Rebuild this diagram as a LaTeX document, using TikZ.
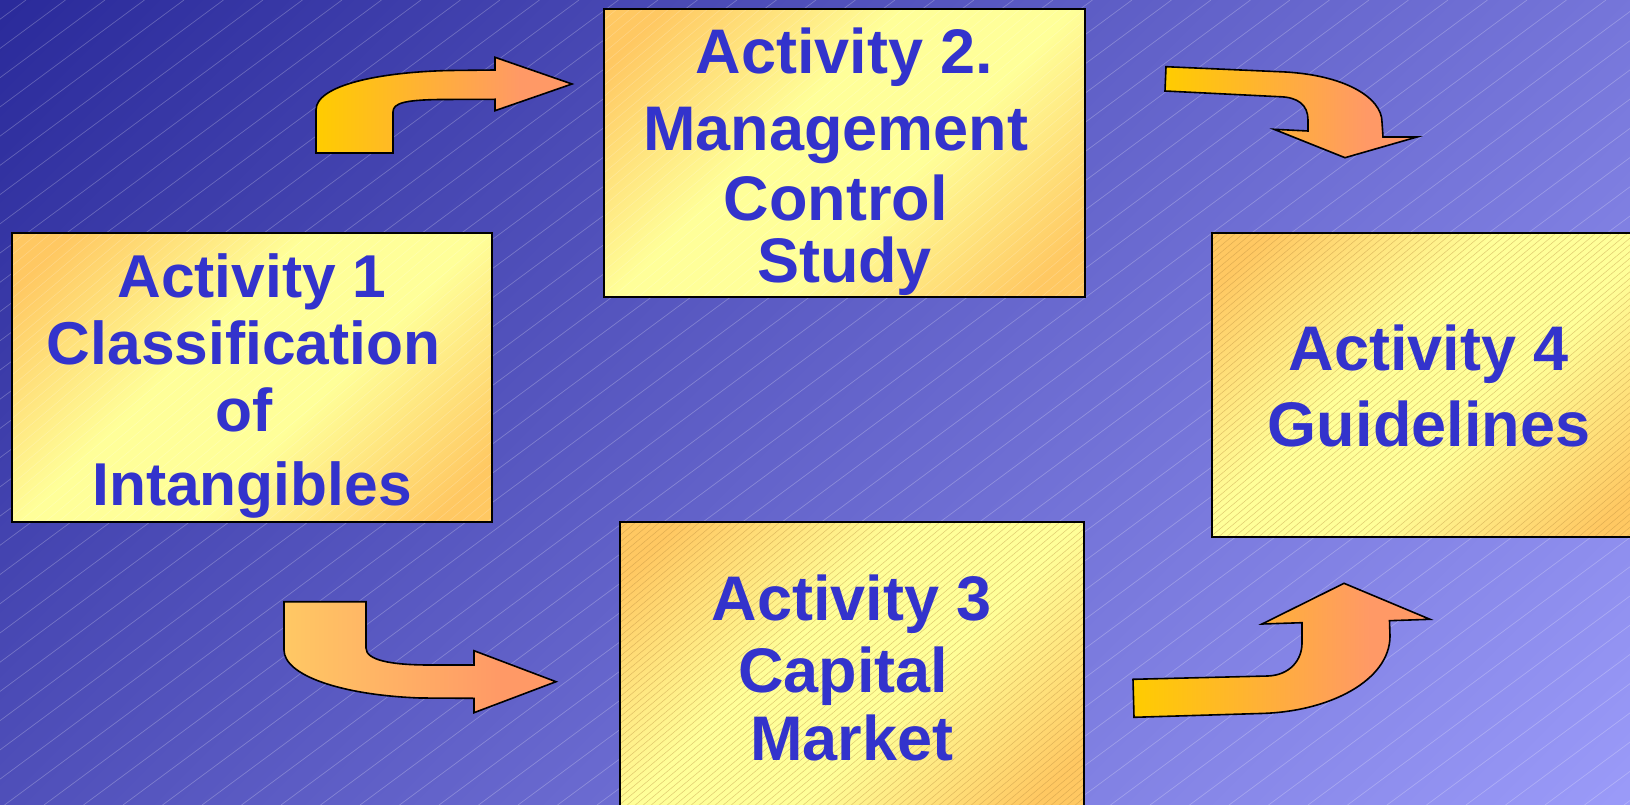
\documentclass[tikz,border=0pt]{standalone}
\usepackage{fontspec}
\setmainfont{Liberation Sans}
\usetikzlibrary{calc}
\definecolor{bgA}{HTML}{2B2B9B}
\definecolor{bgB}{HTML}{9A9AF8}
\definecolor{bxO}{HTML}{FFC862}
\definecolor{bxY}{HTML}{FFFF99}
\definecolor{txB}{HTML}{3333CC}
\definecolor{arY}{HTML}{FFCC00}
\definecolor{arL}{HTML}{FFC864}
\definecolor{arS}{HTML}{FF9966}
\definecolor{htc}{HTML}{B88A3C}
\pgfdeclarehorizontalshading{bgshade}{100bp}{color(0bp)=(bgA); color(15bp)=(bgA); color(85bp)=(bgB); color(100bp)=(bgB)}
\pgfdeclarehorizontalshading{boxshade}{100bp}{color(0bp)=(bxO); color(20bp)=(bxO); color(42bp)=(bxY); color(58bp)=(bxY); color(80bp)=(bxO); color(100bp)=(bxO)}
\pgfdeclarehorizontalshading{arrowshY}{100bp}{color(0bp)=(arY); color(25bp)=(arY); color(65bp)=(arS); color(100bp)=(arS)}
\pgfdeclarehorizontalshading{arrowshL}{100bp}{color(0bp)=(arL); color(25bp)=(arL); color(65bp)=(arS); color(100bp)=(arS)}
\tikzset{
  actbox/.style={rectangle, shade, shading=boxshade, shading angle=-45, inner sep=0pt, outer sep=0pt},
  boxedge/.style={draw=black, line width=2pt},
  acttext/.style={inner sep=0pt, align=center, text=txB, anchor=north},
  blockarrow/.style={draw=black, line width=1.6pt, line join=miter, shade, shading=arrowshY},
  bghatch/.style={draw=white, line width=0.7pt, opacity=0.24},
  lighthatch/.style={draw=white, line width=0.6pt, opacity=0.2},
  darkhatch/.style={draw=htc, line width=0.5pt, opacity=0.45},
}
\newcommand\hatchbox[3]{%
  \begin{scope}
    \clip (#1.north west) rectangle (#1.south east);
    \foreach \k in {0,...,110}{
      \draw[#3] ($(#1.north west)+(\k*#2,0)$) -- ++(-420,353);
    }
  \end{scope}
  \draw[boxedge] (#1.north west) rectangle (#1.south east);}
\begin{document}
\begin{tikzpicture}[x=1pt,y=-1pt]
\useasboundingbox (0,0) rectangle (1630,805);
\clip (0,0) rectangle (1630,805);
% background
\shade[shading=bgshade, shading angle=-45] (0,0) rectangle (1630,805);
\foreach \k in {0,...,70}{
  \draw[bghatch] ({26+\k*39.5},0) -- ++(-1088,805);
}
% boxes
\node[actbox, minimum width=480pt, minimum height=289pt] (b1) at (252,377.5) {};
\node[actbox, minimum width=481pt, minimum height=288pt] (b2) at (844.5,153) {};
\node[actbox, minimum width=464pt, minimum height=290pt] (b3) at (852,667) {};
\node[actbox, minimum width=436pt, minimum height=304pt] (b4) at (1430,385) {};
\hatchbox{b1}{13}{lighthatch}
\hatchbox{b2}{13}{lighthatch}
\hatchbox{b3}{8}{darkhatch}
\hatchbox{b4}{8}{darkhatch}
% texts
\node[acttext, font=\bfseries\fontsize{60.5}{67}\selectfont] (t1) at (252,247.3)
  {\rule{0pt}{50pt}Activity 1\\Classification\kern.278em\\of\kern.278em\\[7pt]Intangibles};
\node[acttext, font=\bfseries\fontsize{63}{70}\selectfont] (t2) at (844.5,23.3)
  {\rule{0pt}{50pt}Activity 2.\\[7pt]Management\kern.278em\\Control\kern.278em\\[-8pt]Study};
\node[acttext, font=\bfseries\fontsize{63}{70}\selectfont] (t3) at (852,570)
  {\rule{0pt}{50pt}Activity 3\\[2pt]Capital\kern.278em\\[-2pt]Market};
\node[acttext, font=\bfseries\fontsize{63}{76}\selectfont] (t4) at (1429,320.7)
  {\rule{0pt}{50pt}Activity 4\\Guidelines};
% block arrows
\draw[blockarrow] (316,153) -- (393,153) -- (393,112) .. controls (393,103) and (405,100) .. (440,99.5) -- (495,99.3) -- (495,110.7) -- (572,84) -- (495,57.3) -- (495,70) -- (450,70.5) .. controls (380,72) and (316,85) .. (316,110) -- cycle;
\draw[blockarrow] (1166,66.7) -- (1279,71.7) .. controls (1345,74) and (1382,98) .. (1382,122) -- (1383,137) -- (1417,137) -- (1345,157.7) -- (1274,129.3) -- (1308,131) -- (1308,120) .. controls (1308,105) and (1298,97) .. (1279,96.7) -- (1165,91) -- cycle;
\draw[blockarrow, shading=arrowshL] (284,601.7) -- (366,601.7) -- (366,648) .. controls (366,660) and (390,665) .. (430,665) -- (474,665) -- (474,650.7) -- (556,681.7) -- (474,712.7) -- (474,698.3) -- (420,698) .. controls (340,695) and (284,675) .. (284,650) -- cycle;
\draw[blockarrow] (1133,679.3) -- (1268,676) .. controls (1290,675) and (1302,660) .. (1302,643) -- (1302,622.7) -- (1262,624) -- (1344,583.3) -- (1430,619.3) -- (1389.5,620.7) -- (1390,636) .. controls (1390,680) and (1330,712) .. (1260,713.5) -- (1134,717.3) -- cycle;
\end{tikzpicture}
\end{document}
